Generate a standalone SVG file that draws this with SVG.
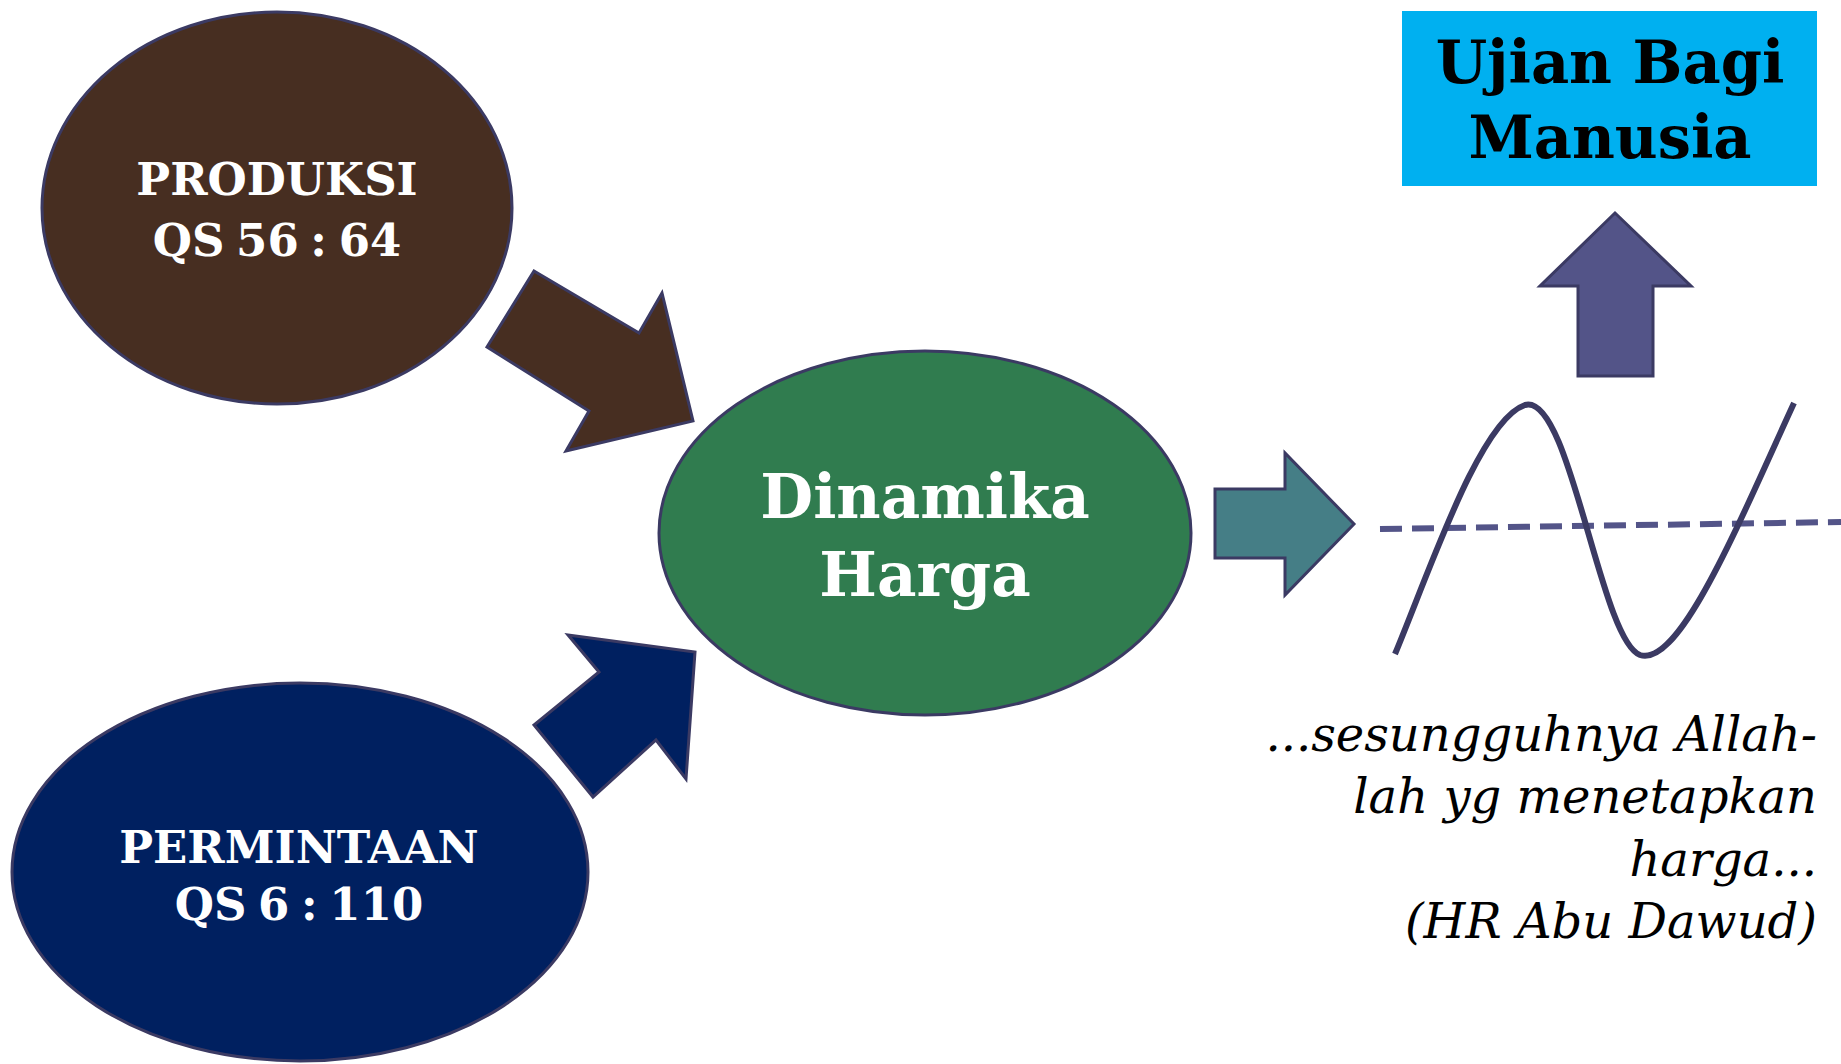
<svg xmlns="http://www.w3.org/2000/svg" width="1841" height="1064" viewBox="0 0 1841 1064">
<style>
.node{stroke:#3B3A63;stroke-width:3}
.lbl{font-family:"DejaVu Serif","Liberation Serif",serif;font-weight:bold;fill:#ffffff;text-anchor:middle}
.arrow{stroke:#3B3A63;stroke-width:3;stroke-linejoin:miter}
.quote{font-family:"DejaVu Serif","Liberation Serif",serif;font-style:italic;font-size:48px;fill:#000000;text-anchor:end}
</style>
<rect width="1841" height="1064" fill="#ffffff"/>
<g id="produksi">
<ellipse class="node" cx="277" cy="208" rx="235" ry="196" fill="#472E21"/>
<text class="lbl" x="277" y="195" font-size="45">PRODUKSI</text>
<text class="lbl" x="277" y="256" font-size="45" word-spacing="-4">QS 56 : 64</text>
</g>
<g id="permintaan">
<ellipse class="node" cx="300" cy="872" rx="288" ry="189" fill="#002060"/>
<text class="lbl" x="299" y="863" font-size="45">PERMINTAAN</text>
<text class="lbl" x="299" y="920" font-size="45" word-spacing="-4">QS 6 : 110</text>
</g>
<g id="dinamika">
<ellipse class="node" cx="925" cy="533" rx="266" ry="182" fill="#307C4F"/>
<text class="lbl" x="925" y="518" font-size="61">Dinamika</text>
<text class="lbl" x="925" y="596" font-size="61">Harga</text>
</g>
<g id="ujian">
<rect x="1402" y="11" width="415" height="175" fill="#00B0F0"/>
<text x="1610" y="83" font-size="59" font-family="DejaVu Serif, Liberation Serif, serif" font-weight="bold" fill="#000000" text-anchor="middle">Ujian Bagi</text>
<text x="1610" y="158" font-size="59" font-family="DejaVu Serif, Liberation Serif, serif" font-weight="bold" fill="#000000" text-anchor="middle">Manusia</text>
</g>
<g id="grafik">
<line x1="1380" y1="529" x2="1841" y2="522" stroke="#535488" stroke-width="6" stroke-dasharray="22 10"/>
<path d="M1395,654 C1430,570 1480,420 1525,405 C1570,392 1600,640 1640,655 C1680,668 1740,520 1794,403" fill="none" stroke="#3B3A63" stroke-width="6"/>
</g>
<g id="kutipan">
<text class="quote" x="1817" y="751">...sesungguhnya Allah-</text>
<text class="quote" x="1817" y="813">lah yg menetapkan</text>
<text class="quote" x="1817" y="876">harga...</text>
<text class="quote" x="1817" y="938">(HR Abu Dawud)</text>
</g>
<g id="connectors">
<polygon class="arrow" fill="#472E21" points="487,347 534,271 639,333 662,293 693,421 566,451 589,411"/>
<polygon class="arrow" fill="#002060" points="568,635 695,652 686,779 656,740 593,797 534,725 599,672"/>
<polygon class="arrow" fill="#457E86" points="1215,489 1285,489 1285,453 1354,524 1285,595 1285,558 1215,558"/>
<polygon class="arrow" fill="#535488" points="1615,213 1691,286 1653,286 1653,376 1578,376 1578,286 1540,286"/>
</g>
</svg>
